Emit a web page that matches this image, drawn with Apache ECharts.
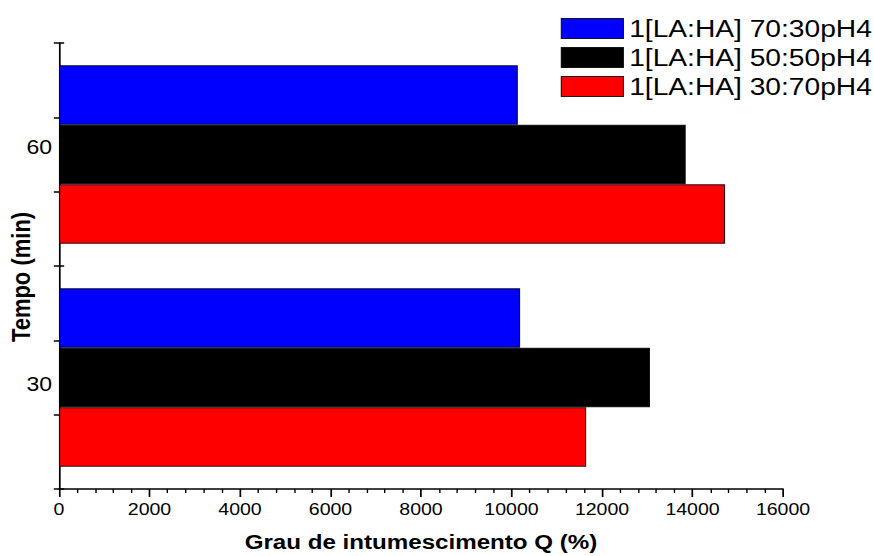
<!DOCTYPE html>
<html>
<head>
<meta charset="utf-8">
<script src="https://cdn.jsdelivr.net/npm/echarts@6/dist/echarts.min.js"></script>
<style>
  html, body { margin: 0; padding: 0; background: #fff; overflow: hidden; }
  /* The figure is laid out narrower and stretched sideways, like the exported plot */
  #chart { width: 760px; height: 556px; transform: scaleX(1.15); transform-origin: 0 0; }
</style>
</head>
<body>
<div id="chart"></div>
<script>
// Time points (min) and swelling degree Q (%) for each LA:HA blend
const categories = ['30', '60'];
const seriesNames = ['1[LA:HA] 70:30pH4', '1[LA:HA] 50:50pH4', '1[LA:HA] 30:70pH4'];
const swell7030 = [10190, 10140];
const swell5050 = [13060, 13850];
const swell3070 = [11650, 14720];
const seriesColors = ['#0000ff', '#000000', '#ff0000'];
const xMin = 0, xMax = 16000, xStep = 2000;

const FONT = 'Arial, "Liberation Sans", sans-serif';

const chart = echarts.init(document.getElementById('chart'), null, { renderer: 'svg' });

function bar(name, data, color) {
  return {
    name: name,
    type: 'bar',
    data: data,
    barGap: '0%',
    barCategoryGap: '20%',
    itemStyle: { color: color, borderColor: 'rgba(0,0,0,0.85)', borderWidth: 1 },
    emphasis: { disabled: true }
  };
}

// Tick-only helper axes on the left (crossing ticks in 6 steps)
function tickAxis(inside) {
  return {
    type: 'value', min: 0, max: 6, interval: 1, position: 'left',
    axisLine: { show: false }, axisLabel: { show: false }, splitLine: { show: false },
    axisTick: { show: true, inside: inside, length: 4.5, lineStyle: { color: '#000', width: 1.5 } }
  };
}

chart.setOption({
  animation: false,
  backgroundColor: '#fff',
  grid: { left: 51.3, right: 79.1, top: 43, bottom: 67, containLabel: false, outerBoundsMode: 'none' },
  legend: {
    orient: 'vertical',
    left: 482.6, top: 11, width: 270,
    icon: 'rect',
    itemWidth: 54, itemHeight: 20, itemGap: 4,
    itemStyle: { borderColor: 'rgba(0,0,0,0.85)', borderWidth: 1 },
    data: seriesNames,
    textStyle: { fontFamily: FONT, fontSize: 24.5, lineHeight: 25, color: '#000' },
    selectedMode: false
  },
  xAxis: {
    type: 'value', min: xMin, max: xMax, interval: xStep,
    name: 'Grau de intumescimento Q (%)', nameLocation: 'middle', nameGap: 43,
    nameMoveOverlap: false,
    nameTextStyle: { fontFamily: FONT, fontSize: 21, fontWeight: 'bold', color: '#000' },
    axisLine: { show: true, onZero: false, lineStyle: { color: '#000', width: 1.5 } },
    axisTick: { show: true, length: 8, lineStyle: { color: '#000', width: 1.5 } },
    minorTick: { show: true, splitNumber: 5, length: 4, lineStyle: { color: '#000', width: 1.2 } },
    axisLabel: { fontFamily: FONT, fontSize: 17, color: '#000', margin: 11, formatter: v => String(v) },
    splitLine: { show: false }
  },
  yAxis: [
    {
      type: 'category', data: categories, position: 'left',
      name: 'Tempo (min)', nameLocation: 'middle', nameGap: 22,
      nameMoveOverlap: false,
      nameTextStyle: { fontFamily: FONT, fontSize: 22, fontWeight: 'bold', color: '#000', padding: [0, 22, 0, 0] },
      axisLine: { show: true, lineStyle: { color: '#000', width: 1.5 } },
      axisTick: { show: false },
      axisLabel: {
        margin: 6,
        formatter: v => (v === '60' ? '{up|' + v + '}' : '{down|' + v + '}'),
        rich: {
          up: { fontFamily: FONT, fontSize: 20, color: '#000', padding: [0, 0, 14, 0] },
          down: { fontFamily: FONT, fontSize: 20, color: '#000', padding: [13, 0, 0, 0] }
        }
      },
      splitLine: { show: false }
    },
    tickAxis(false),
    tickAxis(true)
  ],
  // Listed bottom-to-top within each time group
  series: [
    bar(seriesNames[0], swell7030, seriesColors[0]),
    bar(seriesNames[1], swell5050, seriesColors[1]),
    bar(seriesNames[2], swell3070, seriesColors[2])
  ]
});
</script>
</body>
</html>
